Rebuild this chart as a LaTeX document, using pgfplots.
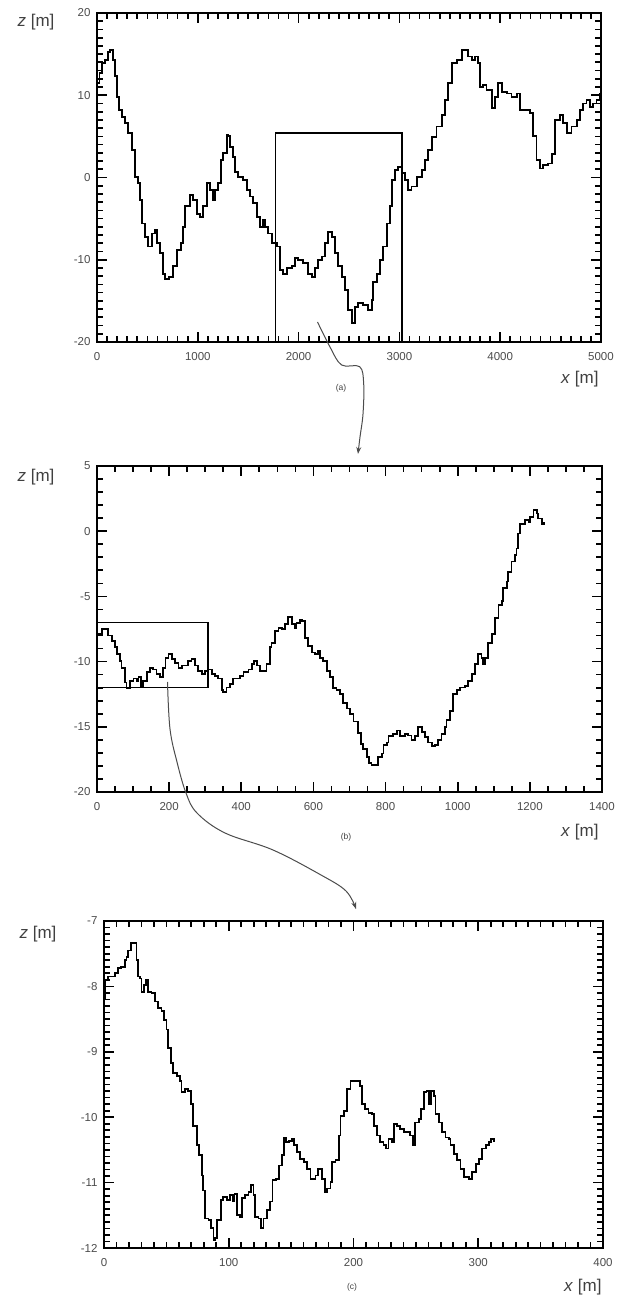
\documentclass[border=0pt]{standalone}
\usepackage{fontspec}
\setmainfont{Liberation Sans}
\usepackage{pgfplots}
\pgfplotsset{compat=1.18}
\usetikzlibrary{arrows.meta}

\pgfplotsset{
  profile/.style={
    scale only axis,
    anchor=south west,
    axis line style={line width=1.5pt},
    tick style={line width=1.7pt, black},
    major tick length=10pt,
    minor tick length=6pt,
    tick align=inside,
    ticklabel style={font=\fontsize{11.5}{13}\selectfont, text=black!70},
    xticklabel style={yshift=-7pt},
    yticklabel style={xshift=-3pt},
    scaled ticks=false,
    /pgf/number format/assume math mode=true,
    /pgf/number format/set thousands separator={},
  },
  dataline/.style={black, line width=1.8pt, line join=miter, mark=none, const plot},
}
\newcommand{\lbl}{\fontsize{17}{19}\selectfont\color{black!75}}
\newcommand{\sub}{\fontsize{8.5}{10}\selectfont\color{black!75}}

\begin{document}
\begin{tikzpicture}
\useasboundingbox (0,0) rectangle (629pt,1299pt);

% (a) whole profile
\begin{axis}[profile, at={(97pt,957pt)}, width=504pt, height=329pt,
  xmin=0, xmax=5000, ymin=-20, ymax=20,
  xtick={0,1000,...,5000}, ytick={-20,-10,...,20},
  minor x tick num=9, minor y tick num=9]
\addplot[dataline] coordinates {
(0,11.5) (25,12.7) (46,13.9) (80,14.3) (113,15.3) (129,15.5) (162,14.3)
(178,12.3) (195,9.8) (218,8.2) (245,7.4) (278,6.6) (311,5.4) (344,3.3)
(377,0.1) (410,-0.7) (427,-2.7) (443,-5.6) (476,-7.2) (509,-8.4) (542,-6.8)
(575,-6.4) (592,-8.0) (625,-9.2) (658,-11.7) (675,-12.3) (714,-12.1)
(757,-10.8) (790,-8.8) (833,-8.0) (856,-6.0) (873,-3.5) (923,-2.1)
(956,-2.7) (989,-4.4) (1022,-4.8) (1055,-3.5) (1088,-0.7) (1121,-1.5)
(1154,-2.7) (1171,-1.5) (1204,-0.7) (1230,2.1) (1253,3.0) (1286,5.2)
(1303,5.0) (1319,3.7) (1352,2.5) (1369,0.7) (1402,0.1) (1452,-0.3)
(1485,-1.5) (1518,-2.3) (1551,-3.1) (1584,-4.8) (1617,-6.0) (1650,-5.2)
(1667,-6.0) (1700,-6.8) (1733,-8.0) (1782,-8.4) (1815,-11.2) (1848,-11.7)
(1882,-11.0) (1931,-10.8) (1964,-9.8) (1997,-10.0) (2047,-10.4)
(2097,-11.7) (2130,-12.1) (2163,-11.0) (2196,-10.0) (2229,-9.6)
(2262,-8.0) (2295,-6.6) (2328,-7.2) (2361,-9.2) (2394,-10.8) (2427,-12.1)
(2460,-13.7) (2493,-16.1) (2526,-17.7) (2559,-15.7) (2592,-15.3)
(2642,-15.5) (2692,-16.1) (2725,-14.9) (2741,-12.7) (2774,-11.7)
(2807,-10.0) (2840,-8.4) (2873,-5.6) (2906,-3.5) (2923,-0.3) (2956,0.9)
(2989,1.3) (3022,0.5) (3055,-0.3) (3088,-1.5) (3121,-1.1) (3171,0.1)
(3221,0.9) (3254,2.1) (3287,3.3) (3320,4.9) (3369,6.2) (3419,7.6)
(3452,9.4) (3485,11.45) (3518,13.9) (3568,14.3) (3618,15.5) (3651,15.5)
(3684,14.7) (3717,14.3) (3750,14.7) (3783,13.9) (3799,11.0) (3832,11.2)
(3865,10.6) (3915,8.4) (3948,9.8) (3981,11.45) (4014,10.4) (4064,10.2)
(4113,9.8) (4163,10.2) (4196,8.2) (4246,8.2) (4295,7.8) (4328,5.0)
(4361,2.1) (4394,1.1) (4427,1.5) (4477,1.7) (4510,2.9) (4543,7.0)
(4592,7.6) (4626,6.6) (4659,5.4) (4708,6.2) (4758,7.0) (4791,8.2)
(4824,9.0) (4857,9.4) (4890,8.6) (4923,9.0) (4956,9.4) (4989,10.2)
(5000,10.4)
};
\draw[line width=1.4pt] (axis cs:1770,-20) rectangle (axis cs:3025,5.4);
\end{axis}

% (b) zoom of the boxed stretch
\begin{axis}[profile, at={(97pt,507pt)}, width=505pt, height=326pt,
  xmin=0, xmax=1400, ymin=-20, ymax=5,
  xtick={0,200,...,1400}, ytick={-20,-15,...,5},
  minor x tick num=3, minor y tick num=4]
\addplot[dataline] coordinates {
(0,-8.0) (4,-7.9) (13,-7.5) (22,-7.5) (31,-8.0) (41,-8.4) (50,-8.9)
(55,-9.4) (64,-9.95) (68,-10.5) (78,-11.6) (82,-12.0) (92,-11.5)
(101,-11.3) (110,-11.5) (115,-11.2) (122,-11.85) (128,-11.5) (138,-10.8)
(147,-10.5) (156,-10.6) (165,-10.96) (175,-11.2) (184,-10.5) (190,-9.7)
(198,-9.4) (207,-9.8) (216,-10.1) (226,-10.5) (235,-10.3) (244,-10.3)
(253,-9.95) (262,-9.8) (272,-10.3) (281,-10.7) (290,-10.96) (299,-10.7)
(309,-10.6) (318,-10.96) (327,-11.1) (336,-11.3) (346,-12.2) (350,-12.36)
(359,-11.98) (369,-11.7) (378,-11.3) (387,-11.3) (396,-11.1) (406,-10.8)
(420,-10.6) (429,-10.2) (436,-9.95) (443,-10.3) (452,-10.7) (461,-10.7)
(470,-10.2) (480,-8.9) (484,-8.55) (493,-7.66) (503,-7.41) (512,-7.5)
(521,-7.1) (530,-6.6) (540,-7.1) (549,-7.41) (553,-7.03) (563,-6.77)
(569,-6.9) (577,-8.17) (586,-8.8) (595,-9.31) (604,-9.44) (612,-9.2)
(618,-9.7) (627,-9.95) (637,-10.7) (646,-11.2) (655,-12.0) (664,-12.2)
(674,-12.5) (683,-13.2) (692,-13.6) (701,-14.0) (711,-14.6) (724,-15.5)
(732,-16.3) (738,-16.7) (748,-17.3) (754,-17.8) (761,-17.9) (771,-17.9)
(780,-17.3) (789,-17.05) (794,-16.4) (803,-16.2) (808,-15.7) (821,-15.53)
(831,-15.28) (840,-15.7) (854,-15.53) (863,-15.66) (872,-16.04) (881,-15.7)
(891,-15.0) (900,-15.4) (909,-15.8) (918,-16.2) (928,-16.5) (937,-16.4)
(946,-16.04) (955,-15.53) (965,-15.0) (969,-14.5) (979,-13.8) (988,-12.5)
(997,-12.2) (1006,-11.98) (1020,-11.85) (1029,-11.47) (1039,-10.96)
(1048,-10.2) (1057,-9.44) (1066,-9.7) (1071,-10.2) (1076,-9.7)
(1085,-8.55) (1094,-7.9) (1103,-6.65) (1113,-5.63) (1122,-5.38)
(1126,-4.36) (1136,-3.86) (1140,-3.1) (1149,-2.33) (1159,-1.83)
(1163,-1.32) (1168,-0.18) (1172,0.58) (1186,0.84) (1196,0.71) (1200,1.09)
(1210,1.6) (1219,1.35) (1223,0.97) (1233,0.58) (1240,0.71)
};
\draw[line width=1.4pt] (axis cs:0,-12) rectangle (axis cs:308,-7);
\end{axis}

% (c) zoom of the first 310 m
\begin{axis}[profile, at={(104pt,51pt)}, width=499pt, height=327pt,
  xmin=0, xmax=400, ymin=-12, ymax=-7,
  xtick={0,100,...,400}, ytick={-12,-11,...,-7},
  minor x tick num=9, minor y tick num=9]
\addplot[dataline] coordinates {
(0,-8.2) (0.5,-8.03) (1.05,-7.9) (3.2,-7.85) (5.9,-7.85) (8.6,-7.8)
(11.2,-7.72) (13.9,-7.70) (16.6,-7.6) (18,-7.55) (19.3,-7.45) (21.4,-7.34)
(24.1,-7.34) (26,-7.6) (27.3,-7.85) (28.7,-7.88) (30,-8.08) (32.2,-7.98)
(33.5,-7.9) (35.4,-8.08) (38,-8.1) (40.7,-8.23) (43.4,-8.33) (46.1,-8.38)
(48.3,-8.51) (50.1,-8.66) (51.5,-8.94) (53.6,-9.17) (55.5,-9.32)
(58.2,-9.37) (60.9,-9.45) (62.2,-9.62) (64.9,-9.57) (67.6,-9.6)
(69.7,-9.8) (71.6,-10.13) (74.3,-10.43) (76.4,-10.58) (78.3,-10.89)
(79.6,-11.12) (81,-11.55) (83.7,-11.57) (85.8,-11.7) (87.7,-11.88)
(89,-11.85) (90.4,-11.57) (92.2,-11.57) (93.9,-11.27) (95.7,-11.22)
(98.4,-11.27) (101,-11.19) (103.2,-11.29) (104.6,-11.17) (106.5,-11.5)
(109.1,-11.52) (110.5,-11.24) (113.2,-11.19) (115.8,-11.14) (118,-11.04)
(119.9,-11.19) (121.2,-11.52) (123.9,-11.55) (126,-11.7) (127.9,-11.55)
(130.6,-11.42) (133.3,-11.29) (135.1,-10.96) (137.8,-10.94) (140,-10.74)
(142.7,-10.58) (144,-10.31) (145.9,-10.38) (148,-10.36) (150.7,-10.33)
(152.1,-10.43) (154.7,-10.53) (157.4,-10.64) (160.1,-10.69) (162.8,-10.79)
(165.5,-10.94) (169.5,-10.89) (171.6,-10.79) (173.5,-10.79) (174.8,-10.94)
(177,-11.14) (178.9,-11.09) (181.5,-10.99) (182.9,-10.69) (185.6,-10.66)
(188.3,-10.28) (189.6,-9.98) (192.3,-9.9) (195,-9.57) (197.6,-9.45)
(202.7,-9.45) (205.3,-9.52) (206.7,-9.8) (209.4,-9.88) (212,-9.93)
(214.7,-9.95) (216.6,-10.13) (218.8,-10.28) (221.4,-10.38) (224.1,-10.43)
(226.3,-10.48) (228.1,-10.33) (230.8,-10.38) (232.7,-10.1) (234.8,-10.13)
(237.5,-10.18) (240.2,-10.23) (242.9,-10.23) (245.6,-10.28) (247.7,-10.43)
(249.6,-10.08) (252.3,-10.03) (254.2,-9.88) (256.3,-9.62) (258.5,-9.6)
(260.3,-9.8) (262.2,-9.6) (264.4,-9.67) (265.7,-9.95) (268.4,-10.08)
(271.1,-10.23) (273.7,-10.31) (276.4,-10.33) (277.8,-10.43) (280.4,-10.56)
(283.1,-10.66) (285.8,-10.79) (288.5,-10.91) (292.5,-10.94) (295.2,-10.84)
(297.9,-10.71) (300.6,-10.64) (303.2,-10.48) (305.9,-10.43) (308.6,-10.38)
(310,-10.33) (312.6,-10.38)
};
\end{axis}

% labels and connecting arrows
\begin{scope}[x=1pt, y=1pt]
\node at (36,1277) {\lbl\textit{z} [m]};
\node[anchor=east] at (602,920) {\lbl\textit{x} [m]};
\node at (341,911) {\sub(a)};
\node at (36,822) {\lbl\textit{z} [m]};
\node[anchor=east] at (602,467) {\lbl\textit{x} [m]};
\node at (346,462) {\sub(b)};
\node at (38,365) {\lbl\textit{z} [m]};
\node[anchor=east] at (605,12) {\lbl\textit{x} [m]};
\node at (352,12) {\sub(c)};
\draw[black!70, line width=1pt, -{Stealth[length=7pt,width=5pt]}]
  plot[smooth, tension=0.6] coordinates {(317.5,977) (330,952) (341.6,934)
  (359.7,932.3) (363.7,915) (363,885) (360,862) (358,845)};
\draw[black!70, line width=1pt, -{Stealth[length=7pt,width=5pt]}]
  plot[smooth, tension=0.6] coordinates {(167.5,617) (170,570) (177,537)
  (186,506) (197,486) (225,466) (273,449) (321,424) (346,408) (356,390)};
\end{scope}
\end{tikzpicture}
\end{document}
